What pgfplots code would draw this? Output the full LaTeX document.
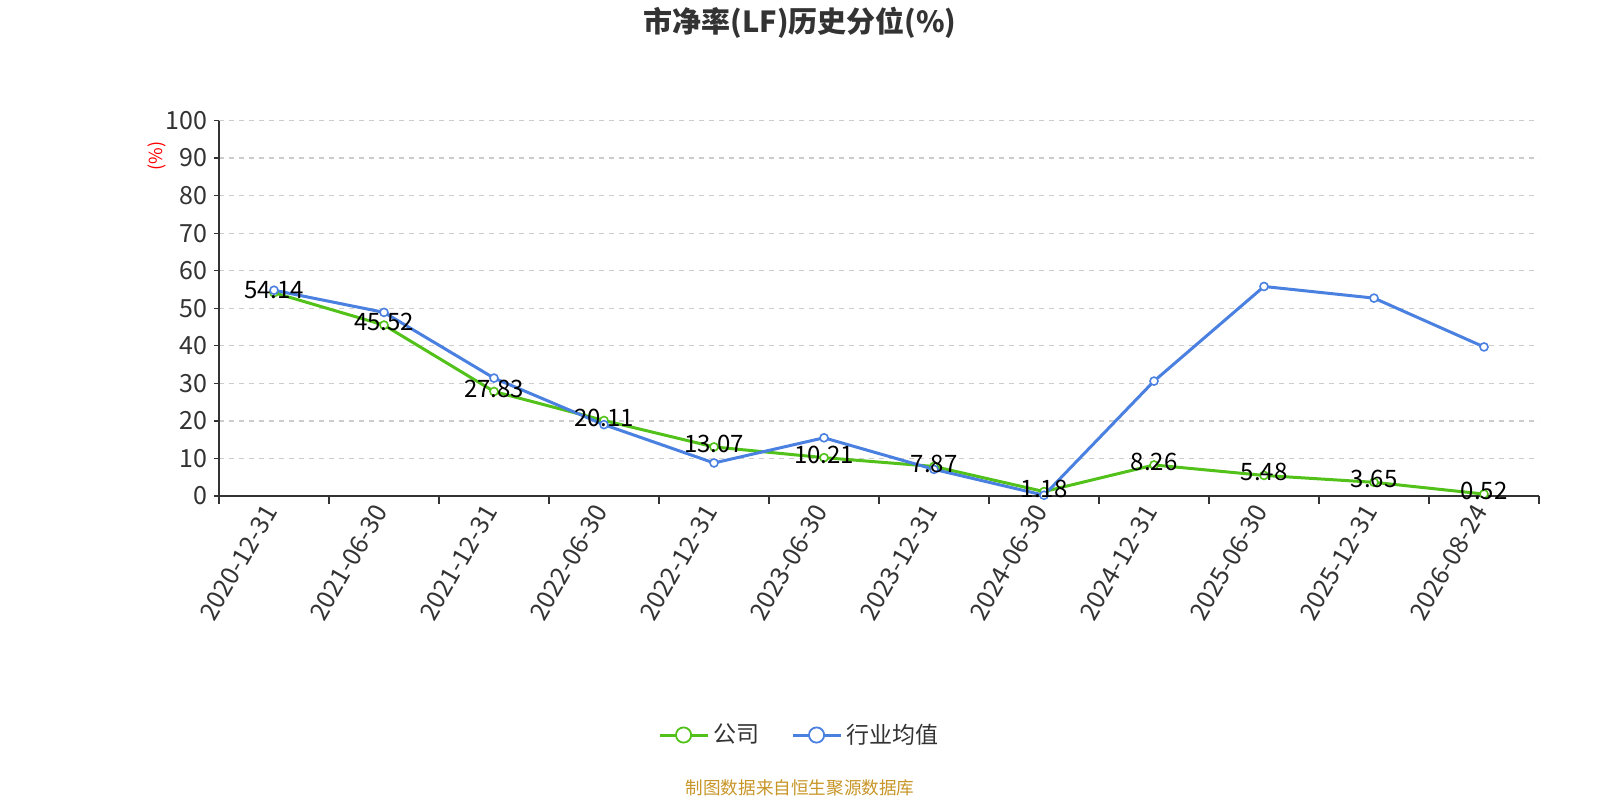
\documentclass[border=0pt]{standalone}
\usepackage{pgfplots}
\pgfplotsset{compat=1.18}
\usepackage{fontspec}
\setmainfont{Noto Sans CJK SC}
\definecolor{cgreen}{RGB}{82,194,26}
\definecolor{cblue}{RGB}{74,128,224}
\definecolor{ctext}{RGB}{51,51,51}
\definecolor{cgrid}{RGB}{204,204,204}
\definecolor{cfoot}{RGB}{200,150,40}
\begin{document}
\begin{tikzpicture}
\path[use as bounding box, fill=white] (0,0) rectangle (800pt,400pt);
\node[font=\fontsize{14.5}{17}\selectfont\bfseries, text=ctext] at (400pt,388.5pt) {市净率(LF)历史分位(\%)};
\node[font=\fontsize{8.8}{10}\selectfont, text=cfoot] at (400pt,6pt) {制图数据来自恒生聚源数据库};
\node[rotate=90, text=red, font=\fontsize{9}{10}\selectfont] at (78.5pt,322pt) {(\%)};
\begin{axis}[
  at={(109.5pt,152pt)}, anchor=south west,
  scale only axis, width=660pt, height=187.75pt,
  xmin=-0.5, xmax=11.5, ymin=0, ymax=100,
  axis x line=bottom, axis y line=left,
  axis line style={-, draw=ctext, line width=0.6pt},
  xtick={0,...,11},
  xticklabels={2020-12-31,2021-06-30,2021-12-31,2022-06-30,2022-12-31,2023-06-30,2023-12-31,2024-06-30,2024-12-31,2025-06-30,2025-12-31,2026-08-24},
  x tick label style={rotate=60, anchor=east, font=\fontsize{12.5}{14}\selectfont, text=ctext},
  major x tick style={draw=none},
  minor xtick={-0.5,0.5,...,11.5},
  minor x tick style={draw=ctext, line width=0.6pt},
  minor tick length=4pt,
  ytick={0,10,...,100},
  y tick style={draw=ctext, line width=0.6pt},
  major tick length=2.5pt,
  tick align=outside,
  y tick label style={font=\fontsize{12.5}{14}\selectfont, text=ctext},
  /pgf/number format/assume math mode=true,
  ymajorgrids,
  grid style={draw=cgrid, line width=0.6pt, dash pattern=on 2.5pt off 2.5pt},
  legend columns=2,
  legend style={at={(0.4402,-0.6365)}, anchor=center, draw=none, fill=none,
    font=\fontsize{11.5}{13}\selectfont, text=ctext,
    /tikz/every even column/.append style={column sep=14pt}},
  legend image code/.code={
    \draw[#1, mark=none] (0pt,0pt) -- (24pt,0pt);
    \draw[#1, fill=white, line width=0.9pt] (12pt,0pt) circle (3.8pt);
  },
]
\addplot[cgreen, line width=1.5pt, mark=*, mark size=2pt, mark options={fill=white, line width=0.8pt}]
 table {
x y
0 54.14
1 45.52
2 27.83
3 20.11
4 13.07
5 10.21
6 7.87
7 1.18
8 8.26
9 5.48
10 3.65
11 0.52
};
\addlegendentry{公司}
\addplot[cblue, line width=1.5pt, mark=*, mark size=2pt, mark options={fill=white, line width=0.8pt}]
 table {
x y
0 54.8
1 48.9
2 31.4
3 19.0
4 8.8
5 15.5
6 7.1
7 0.2
8 30.6
9 55.8
10 52.7
11 39.7
};
\addlegendentry{行业均值}
\addplot[draw=none, mark=none, forget plot, nodes near coords, point meta=explicit symbolic,
  every node near coord/.style={anchor=center, yshift=1.5pt, font=\fontsize{12}{14}\selectfont, text=black, inner sep=0pt}]
 table[meta=label] {
x y label
0 54.14 54.14
1 45.52 45.52
2 27.83 27.83
3 20.11 20.11
4 13.07 13.07
5 10.21 10.21
6 7.87 7.87
7 1.18 1.18
8 8.26 8.26
9 5.48 5.48
10 3.65 3.65
11 0.52 0.52
};
\end{axis}
\end{tikzpicture}
\end{document}
